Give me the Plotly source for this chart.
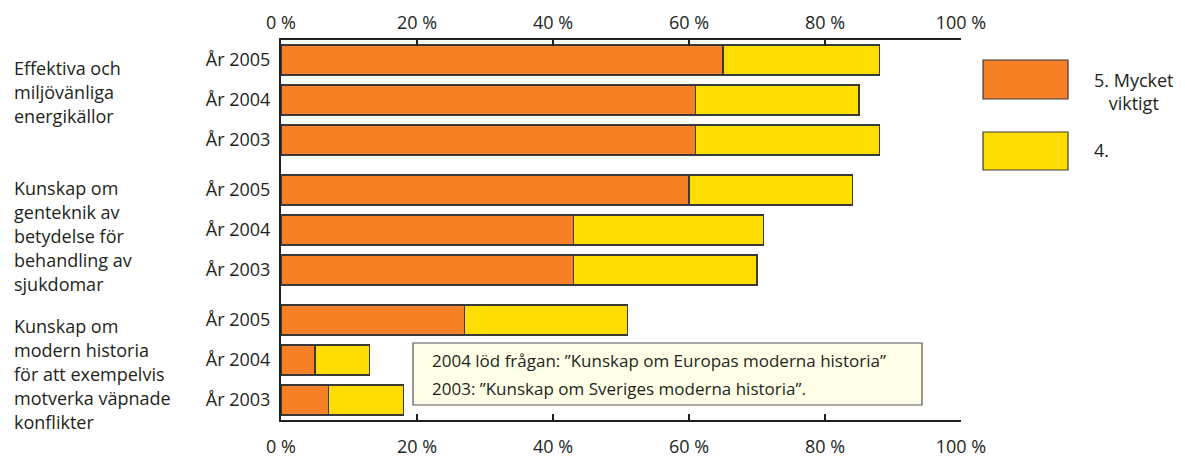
import plotly.graph_objects as go

# ---- data ----
group_labels = [
    ["Effektiva och", "miljövänliga", "energikällor"],
    ["Kunskap om", "genteknik av", "betydelse för", "behandling av", "sjukdomar"],
    ["Kunskap om", "modern historia", "för att exempelvis", "motverka väpnade", "konflikter"],
]
years = ["År 2005", "År 2004", "År 2003"]
very_important = [65, 61, 61, 60, 43, 43, 27, 5, 7]   # 5. Mycket viktigt
important = [23, 24, 27, 24, 28, 27, 24, 8, 11]       # 4.
x_ticks = [0, 20, 40, 60, 80, 100]
x_ticktext = ["0 %", "20 %", "40 %", "60 %", "80 %", "100 %"]
legend_names = ["5. Mycket<br>viktigt", "4."]
note_lines = ["2004 löd frågan: ”Kunskap om Europas moderna historia”",
              "2003: ”Kunskap om Sveriges moderna historia”."]

# ---- style ----
ORANGE = "#F58025"
YELLOW = "#FFDD00"
DARK = "#231F20"
EDGE = "#3a3a3a"
FONT = "Open Sans"
FS = 18

W, H = 1185, 466
L, R, T, B = 281, 224, 40, 46
PW = W - L - R
PH = H - T - B


def px_x(x):
    return (x - L) / PW


def px_y(y):
    return 1 - (y - T) / PH


# bar positions (pixel-like units along the category axis)
ypos = []
ytext = []
for g in range(3):
    for i in range(3):
        ypos.append(20 + g * 130 + i * 40)
        ytext.append(years[i])

fig = go.Figure()
fig.add_trace(go.Bar(x=very_important, y=ypos, orientation="h", width=30,
                     marker=dict(color=ORANGE, line=dict(color=EDGE, width=1.2)),
                     name="5", showlegend=False))
fig.add_trace(go.Bar(x=important, y=ypos, orientation="h", width=30,
                     marker=dict(color=YELLOW, line=dict(color=EDGE, width=1.2)),
                     name="4", showlegend=False))
# invisible trace to activate top axis
fig.add_trace(go.Scatter(x=[None], y=[None], xaxis="x2", yaxis="y", showlegend=False,
                         hoverinfo="skip"))

axis_common = dict(range=[0, 100], tickvals=x_ticks, ticktext=x_ticktext,
                   ticks="inside", ticklen=6, tickwidth=2, tickcolor=DARK,
                   showgrid=False, zeroline=False, showline=True, linecolor=DARK,
                   linewidth=2, tickfont=dict(family=FONT, size=FS, color=DARK),
                   automargin=False)

fig.update_layout(
    width=W, height=H,
    margin=dict(l=L, r=R, t=T, b=B),
    paper_bgcolor="white", plot_bgcolor="white",
    barmode="stack", bargap=0,
    font=dict(family=FONT, size=FS, color=DARK),
    xaxis=dict(side="bottom", ticklabelstandoff=9, **axis_common),
    xaxis2=dict(side="top", overlaying="x", matches="x", ticklabelstandoff=2,
                **axis_common),
    yaxis=dict(range=[PH, 0], tickvals=ypos, ticktext=ytext, ticks="",
               showgrid=False, zeroline=False, showline=True, linecolor=DARK,
               linewidth=2, ticklabelstandoff=5, automargin=False,
               tickfont=dict(family=FONT, size=FS, color=DARK)),
)

# group labels
first_line_y = [68, 188, 326]
for g, lines in enumerate(group_labels):
    for k, line in enumerate(lines):
        fig.add_annotation(text=line, xref="paper", yref="paper",
                           x=px_x(12), y=px_y(first_line_y[g] + 24 * k),
                           xanchor="left", yanchor="middle", showarrow=False,
                           font=dict(family=FONT, size=FS, color=DARK))

# legend (drawn)
legend_colors = [ORANGE, YELLOW]
legend_box_y = [(60, 99), (132, 170)]
for c, (y0, y1) in zip(legend_colors, legend_box_y):
    fig.add_shape(type="rect", xref="paper", yref="paper",
                  x0=px_x(983), x1=px_x(1068), y0=px_y(y0), y1=px_y(y1),
                  fillcolor=c, line=dict(color=EDGE, width=1.2))
fig.add_annotation(text=legend_names[0], xref="paper", yref="paper",
                   x=px_x(1134), y=px_y(91), xanchor="center", yanchor="middle",
                   align="center", showarrow=False,
                   font=dict(family=FONT, size=FS, color=DARK))
fig.add_annotation(text=legend_names[1], xref="paper", yref="paper",
                   x=px_x(1092), y=px_y(150), xanchor="left", yanchor="middle",
                   showarrow=False, font=dict(family=FONT, size=FS, color=DARK))

# note box
fig.add_shape(type="rect", xref="paper", yref="paper",
              x0=px_x(413), x1=px_x(922), y0=px_y(343), y1=px_y(405),
              fillcolor="#FFFFE8", line=dict(color="#555555", width=1.2))
for k, line in enumerate(note_lines):
    fig.add_annotation(text=line, xref="paper", yref="paper",
                       x=px_x(430), y=px_y(360 + 28 * k), xanchor="left",
                       yanchor="middle", showarrow=False,
                       font=dict(family=FONT, size=17, color=DARK))

fig.write_html("out.html",
               config={"displayModeBar": False, "staticPlot": True},
               post_script="document.body.style.margin='0';document.body.style.padding='0';")
